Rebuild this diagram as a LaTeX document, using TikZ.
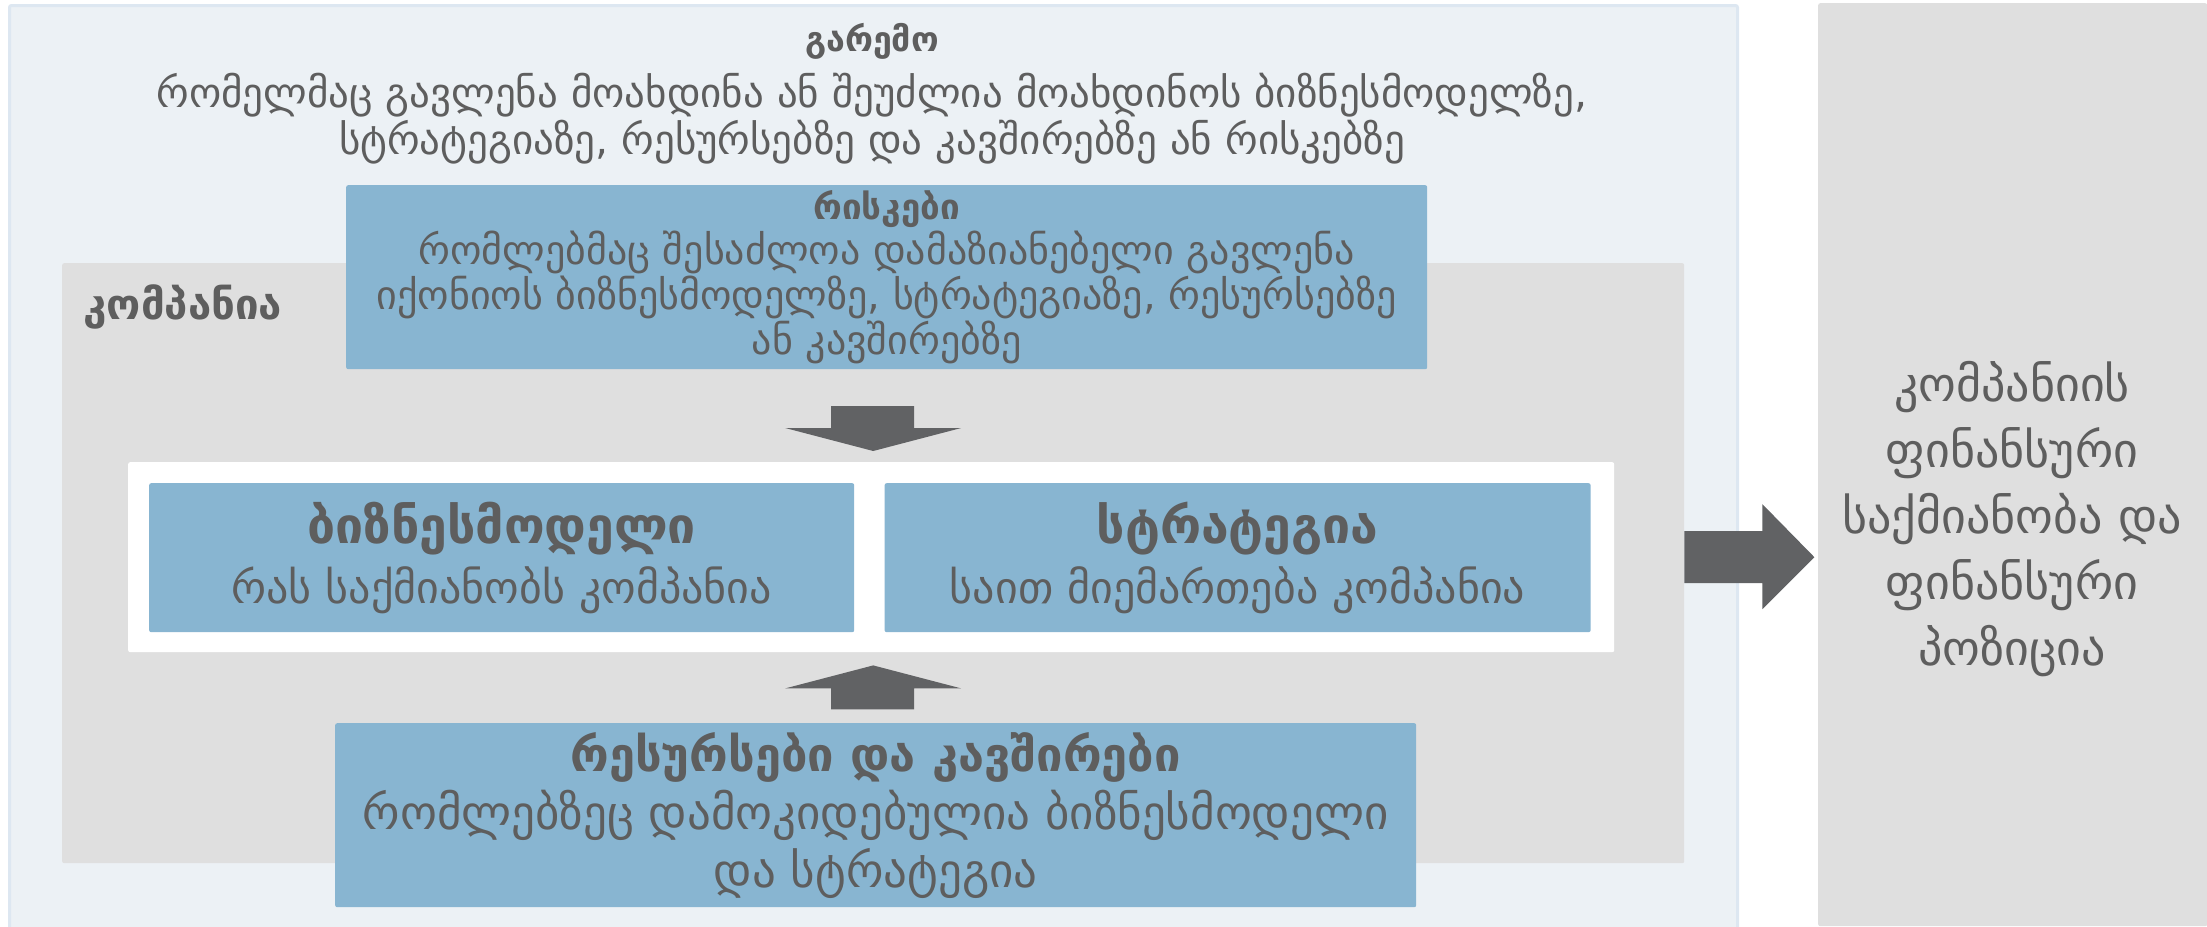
\documentclass[tikz,border=0pt]{standalone}
\usepackage{fontspec}
\setmainfont{DejaVu Sans}
\usetikzlibrary{positioning,calc}

\definecolor{envfill}{HTML}{ECF1F5}
\definecolor{envline}{HTML}{DDE7F1}
\definecolor{compfill}{HTML}{DFDFDF}
\definecolor{bluefill}{HTML}{88B5D1}
\definecolor{inkgrey}{HTML}{5E5E5E}
\definecolor{arrowgrey}{HTML}{616264}

\begin{document}
\begin{tikzpicture}[x=1pt, y=-1pt,
	panel/.style={rectangle, rounded corners=2pt, inner sep=0pt, anchor=north west},
	bluebox/.style={panel, fill=bluefill, text=inkgrey, align=center},
	blockarrow/.style={fill=arrowgrey}]
	\useasboundingbox (0,0) rectangle (2207,926);
	% outer panels
	\node[panel, fill=envfill, draw=envline, line width=3pt, minimum width=1728, minimum height=924] (env) at (8,4) {};
	\node[panel, fill=compfill, minimum width=389, minimum height=923] (side) at (1818,3) {};
	\node[panel, fill=compfill, minimum width=1622, minimum height=600] (company) at (62,263) {};
	\node[panel, fill=white, minimum width=1486, minimum height=190] (core) at (128,462) {};
	% blue boxes
	\node[bluebox, minimum width=1081, minimum height=184, font=\fontsize{40}{45}\selectfont] (risks) at (346,185)
		{{\bfseries\fontsize{35}{45}\selectfont რისკები}\\ რომლებმაც შესაძლოა დამაზიანებელი გავლენა\\ იქონიოს ბიზნესმოდელზე, სტრატეგიაზე, რესურსებზე\\ ან კავშირებზე};
	\node[bluebox, minimum width=705, minimum height=149, font=\fontsize{44}{60}\selectfont] (model) at (149,483)
		{{\bfseries\fontsize{50}{58}\selectfont ბიზნესმოდელი}\\ რას საქმიანობს კომპანია};
	\node[bluebox, minimum width=706, minimum height=149, font=\fontsize{44}{60}\selectfont, right=30 of model.north east, anchor=north west] (strategy)
		{{\bfseries\fontsize{50}{58}\selectfont სტრატეგია}\\ საით მიემართება კომპანია};
	\node[bluebox, minimum width=1081, minimum height=184, font=\fontsize{47}{58}\selectfont] (resources) at (335,723)
		{{\bfseries რესურსები და კავშირები}\\ რომლებზეც დამოკიდებულია ბიზნესმოდელი\\ და სტრატეგია};
	% texts
	\node[text=inkgrey, align=center, font=\fontsize{41}{47}\selectfont] (envtext) at (872,94)
		{{\bfseries\fontsize{34}{47}\selectfont გარემო}\\[9pt] რომელმაც გავლენა მოახდინა ან შეუძლია მოახდინოს ბიზნესმოდელზე,\\ სტრატეგიაზე, რესურსებზე და კავშირებზე ან რისკებზე};
	\node[text=inkgrey, anchor=west, font=\bfseries\fontsize{42}{45}\selectfont] (complabel) at (80,307) {კომპანია};
	\node[text=inkgrey, align=center, font=\fontsize{48}{66}\selectfont] (result) at (2012,519)
		{კომპანიის\\ ფინანსური\\ საქმიანობა და\\ ფინანსური\\ პოზიცია};
	% arrows
	\fill[blockarrow] ($(core.north)+(2,-11)$) -- ++(-88,-23) -- ++(46,0) -- ++(0,-22) -- ++(83,0) -- ++(0,22) -- ++(47,0) -- cycle;
	\fill[blockarrow] ($(core.south)+(2,13)$) -- ++(-88,23) -- ++(46,0) -- ++(0,21) -- ++(83,0) -- ++(0,-21) -- ++(47,0) -- cycle;
	\fill[blockarrow] ($(company.east)+(0,-32)$) -- ++(78,0) -- ++(0,-27) -- ++(52,53) -- ++(-52,52) -- ++(0,-26) -- ++(-78,0) -- cycle;
\end{tikzpicture}
\end{document}
